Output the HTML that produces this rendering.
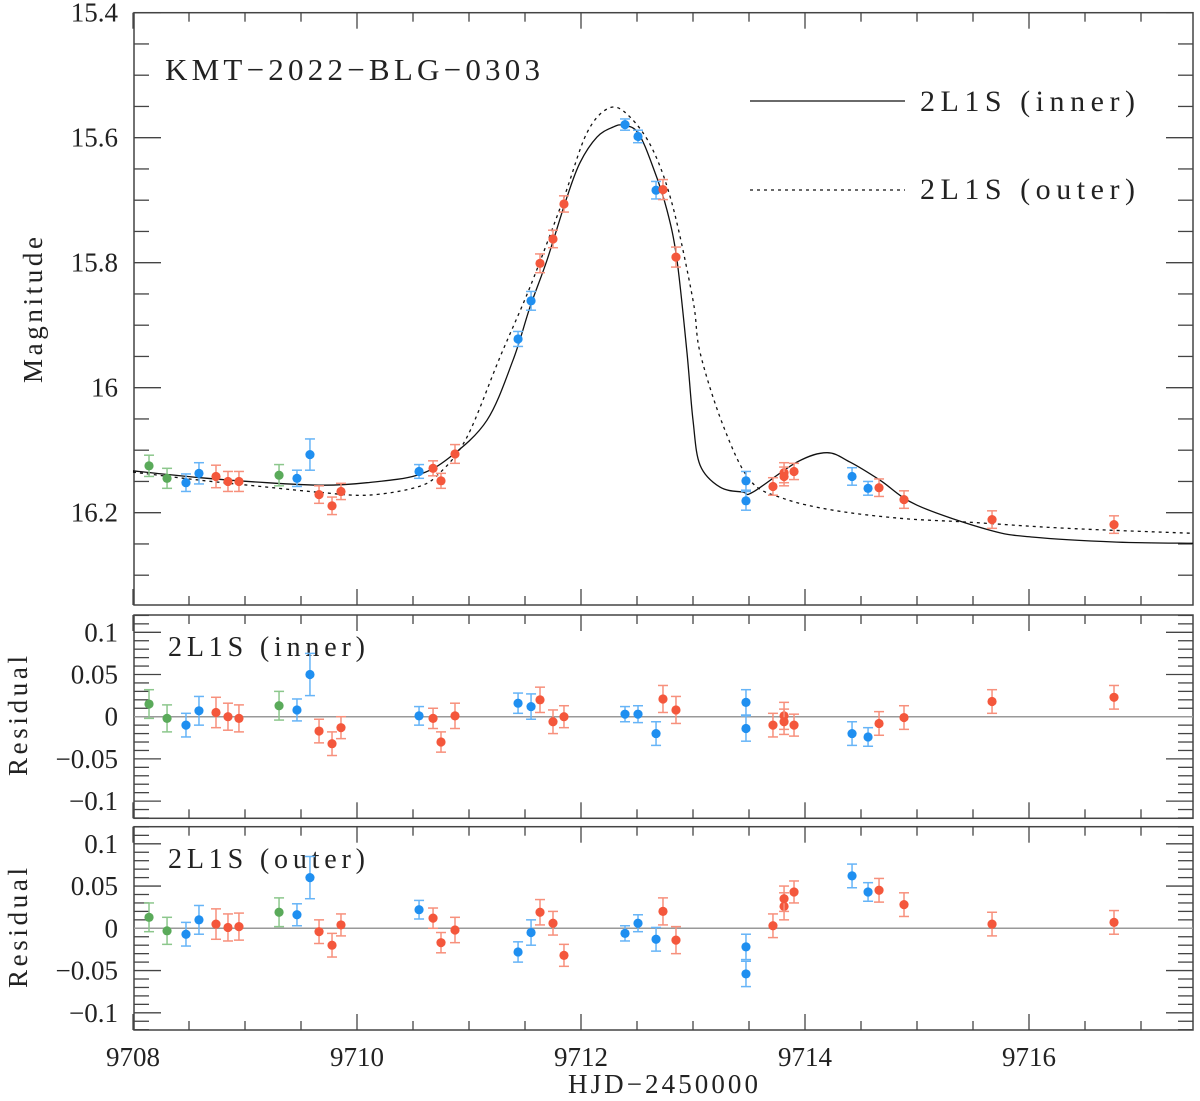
<!DOCTYPE html>
<html><head><meta charset="utf-8"><style>
html,body{margin:0;padding:0;background:#fff;}
svg{display:block;font-family:"Liberation Serif",serif;}
</style></head><body>
<svg id="chart" width="1200" height="1101" viewBox="0 0 1200 1101" xmlns="http://www.w3.org/2000/svg">
<g id="g"></g>
</svg>
<script>
const times=[9708.143,9708.304,9708.473,9708.589,9708.741,9708.848,9708.946,9709.304,9709.464,9709.580,9709.661,9709.777,9709.857,9710.554,9710.679,9710.750,9710.875,
9711.438,9711.554,9711.634,9711.750,9711.848,9712.393,9712.509,9712.670,9712.732,9712.848,
9713.473,9713.473,9713.714,9713.813,9713.813,9713.902,9714.420,9714.563,9714.661,9714.884,9715.670,9716.759];
const observatory=['g','g','b','b','r','r','r','g','b','b','r','r','r','b','r','r','r',
'b','b','r','r','r','b','b','b','r','r',
'b','b','r','r','r','r','b','b','r','r','r','r'];
const mags=[16.125,16.145,16.152,16.137,16.142,16.150,16.150,16.140,16.145,16.107,16.171,16.189,16.166,16.134,16.129,16.149,16.106,
15.922,15.861,15.801,15.762,15.706,15.579,15.598,15.684,15.683,15.791,
16.149,16.181,16.158,16.136,16.142,16.134,16.142,16.161,16.160,16.179,16.211,16.219];
const errs=[0.017,0.016,0.014,0.017,0.018,0.016,0.016,0.017,0.013,0.025,0.014,0.014,0.013,0.011,0.012,0.012,0.015,
0.012,0.015,0.015,0.014,0.013,0.009,0.010,0.014,0.016,0.016,
0.015,0.015,0.014,0.016,0.015,0.013,0.014,0.011,0.014,0.014,0.014,0.014];
const resInner=[0.015,-0.002,-0.010,0.007,0.005,0.000,-0.002,0.013,0.008,0.050,-0.017,-0.032,-0.013,0.001,-0.002,-0.030,0.001,
0.016,0.012,0.020,-0.006,0.000,0.003,0.003,-0.020,0.021,0.008,
0.017,-0.014,-0.010,0.001,-0.006,-0.010,-0.020,-0.024,-0.008,-0.001,0.018,0.023];
const resOuter=[0.013,-0.003,-0.007,0.010,0.005,0.001,0.002,0.019,0.016,0.060,-0.004,-0.020,0.004,0.022,0.012,-0.017,-0.002,
-0.028,-0.005,0.019,0.006,-0.032,-0.006,0.006,-0.013,0.020,-0.014,
-0.022,-0.054,0.003,0.026,0.035,0.043,0.062,0.043,0.045,0.028,0.005,0.007];
const innerT=[9708,9708.598,9709.196,9709.696,9710.089,9710.536,9710.830,9711.161,9711.393,9711.545,9711.696,9711.875,9711.991,9712.143,9712.286,9712.375,9712.509,9712.643,9712.768,9712.857,9712.946,9713.0,9713.063,9713.241,9713.446,9713.536,9713.929,9714.196,9714.402,9714.670,9715.0,9715.652,9716.036,9716.786,9717.464];
const innerM=[16.133,16.144,16.152,16.156,16.152,16.140,16.111,16.052,15.956,15.871,15.796,15.695,15.640,15.599,15.583,15.580,15.592,15.647,15.716,15.796,15.944,16.052,16.124,16.159,16.167,16.167,16.119,16.104,16.119,16.148,16.188,16.228,16.239,16.247,16.249];
const outerT=[9708,9708.598,9709.196,9709.643,9710.089,9710.536,9710.741,9710.982,9711.277,9711.545,9711.839,9712.054,9712.259,9712.438,9712.643,9712.821,9713.0,9713.063,9713.268,9713.509,9713.804,9714.25,9714.848,9715.446,9716.339,9717.464];
const outerM=[16.135,16.148,16.159,16.167,16.172,16.159,16.136,16.079,15.951,15.839,15.700,15.592,15.552,15.567,15.620,15.711,15.860,15.944,16.060,16.148,16.177,16.196,16.209,16.215,16.225,16.233];
const xTicks=[9708,9710,9712,9714,9716];
const magTicks=[15.4,15.6,15.8,16,16.2];
const resTicks=[0.1,0.05,0,-0.05,-0.1];

const NS='http://www.w3.org/2000/svg';
const G=document.getElementById('g');
const L=134,R=1193;
const X=t=>133+(t-9708)*112;
const main={top:12.7,bot:605,y:m=>12.7+(m-15.4)*625};
const p1={top:615,bot:818.3,y:v=>716.7-v*844};
const p2={top:826.7,bot:1030,y:v=>928.3-v*845};
const COL={g:'#5aaa5a',b:'#1f8ff0',r:'#f4573c'};
const ECOL={g:'#8cc78c',b:'#66b4f7',r:'#f7907c'};
function mk(tag,attrs,parent){const e=document.createElementNS(NS,tag);for(const k in attrs)e.setAttribute(k,attrs[k]);(parent||G).appendChild(e);return e;}
function txt(s,x,y,size,anchor,parent){const e=mk('text',{x:x,y:y,'font-size':size,'text-anchor':anchor||'start',fill:'#222'},parent);e.textContent=s;return e;}

function frame(p,name,minorY,majorY,yfun,lo,hi){
  const g=mk('g',{});
  
  
  mk('rect',{x:L,y:p.top,width:R-L,height:p.bot-p.top,fill:'none',stroke:'#444','stroke-width':1.5},g);
  for(let t=9708;t<=9717.5;t+=0.5){const x=X(t);if(x<L-1||x>R)continue;const maj=Math.abs(t-Math.round(t/2)*2)<1e-6;const len=maj?16:9;
    mk('line',{x1:x,x2:x,y1:p.bot,y2:p.bot-len,stroke:'#444','stroke-width':1.3},g);
    mk('line',{x1:x,x2:x,y1:p.top,y2:p.top+len,stroke:'#444','stroke-width':1.3},g);}
  for(let v=lo;v<=hi+1e-9;v+=minorY){const y=yfun(v);if(y<p.top-0.5||y>p.bot+0.5)continue;const r=v/majorY;const maj=Math.abs(r-Math.round(r))<1e-6;const len=maj?27:15;
    mk('line',{x1:L,x2:L+len,y1:y,y2:y,stroke:'#444','stroke-width':1.3},g);
    mk('line',{x1:R,x2:R-len,y1:y,y2:y,stroke:'#444','stroke-width':1.3},g);}
  return g;
}
frame(main,'main-panel-frame',0.05,0.2,main.y,15.4,16.35);
frame(p1,'residual-inner-frame',0.01,0.05,p1.y,-0.12,0.12);
frame(p2,'residual-outer-frame',0.01,0.05,p2.y,-0.12,0.12);

magTicks.forEach(m=>{const e=txt(String(m),118,main.y(m)+9,27,'end');

});
[p1,p2].forEach(p=>resTicks.forEach(v=>{const e=txt(v<0?'\u2212'+Math.abs(v):String(v),118,p.y(v)+9,27,'end');

}));
xTicks.forEach(t=>{const e=txt(String(t),X(t),1066,27,'middle');

});

let e;
e=txt('HJD\u22122450000',568,1093,27,'start');e.setAttribute('textLength','190');


e=txt('Magnitude',0,0,27,'start');e.setAttribute('textLength','146');e.setAttribute('transform','translate(42,383) rotate(-90)');


e=txt('Residual',0,0,27,'start');e.setAttribute('textLength','120');e.setAttribute('transform','translate(27,776) rotate(-90)');


e=txt('Residual',0,0,27,'start');e.setAttribute('textLength','120');e.setAttribute('transform','translate(27,988) rotate(-90)');


e=txt('KMT\u22122022\u2212BLG\u22120303',165,80,31,'start');e.setAttribute('textLength','375');


e=txt('2L1S (inner)',168,656,28,'start');e.setAttribute('textLength','197');


e=txt('2L1S (outer)',168,868,28,'start');e.setAttribute('textLength','197');



e=mk('line',{x1:750,x2:905,y1:101,y2:101,stroke:'#111','stroke-width':1.3});


e=txt('2L1S (inner)',920,111,30,'start');e.setAttribute('textLength','215');


e=mk('line',{x1:750,x2:905,y1:190,y2:190,stroke:'#111','stroke-width':1.3,'stroke-dasharray':'3,4'});


e=txt('2L1S (outer)',920,199,30,'start');e.setAttribute('textLength','215');



[p1,p2].forEach(p=>{const z=mk('line',{x1:L,x2:R,y1:p.y(0),y2:p.y(0),stroke:'#999','stroke-width':1.5});

});

function curve(T,M,dash,name){
  const P=T.map((t,i)=>[X(t),main.y(M[i])]);
  let d='M'+P[0][0].toFixed(1)+','+P[0][1].toFixed(1);
  for(let i=0;i<P.length-1;i++){
    const p0=P[Math.max(0,i-1)],p1=P[i],p2=P[i+1],p3=P[Math.min(P.length-1,i+2)];
    const c1=[p1[0]+(p2[0]-p0[0])/6,p1[1]+(p2[1]-p0[1])/6];
    const c2=[p2[0]-(p3[0]-p1[0])/6,p2[1]-(p3[1]-p1[1])/6];
    d+='C'+c1[0].toFixed(1)+','+c1[1].toFixed(1)+' '+c2[0].toFixed(1)+','+c2[1].toFixed(1)+' '+p2[0].toFixed(1)+','+p2[1].toFixed(1);
  }
  const c=mk('path',{d:d,fill:'none',stroke:'#111','stroke-width':1.3,'stroke-linejoin':'round'});
  if(dash)c.setAttribute('stroke-dasharray','3,4');
  
  
}
curve(outerT,outerM,true,'model-outer-curve');
curve(innerT,innerM,false,'model-inner-curve');

function point(x,y,ey,c,name){
  const g=mk('g',{});
  
  
  const ec=ECOL[c];
  mk('line',{x1:x,x2:x,y1:y-ey,y2:y+ey,stroke:ec,'stroke-width':1.5},g);
  mk('line',{x1:x-5,x2:x+5,y1:y-ey,y2:y-ey,stroke:ec,'stroke-width':1.5},g);
  mk('line',{x1:x-5,x2:x+5,y1:y+ey,y2:y+ey,stroke:ec,'stroke-width':1.5},g);
  mk('circle',{cx:x,cy:y,r:4.6,fill:COL[c]},g);
}
times.forEach((t,i)=>{
  const x=X(t);
  point(x,main.y(mags[i]),errs[i]*625,observatory[i],'data-point');
  point(x,p1.y(resInner[i]),errs[i]*844,observatory[i],'residual-inner-point');
  point(x,p2.y(resOuter[i]),errs[i]*845,observatory[i],'residual-outer-point');
});
</script>
</body></html>
